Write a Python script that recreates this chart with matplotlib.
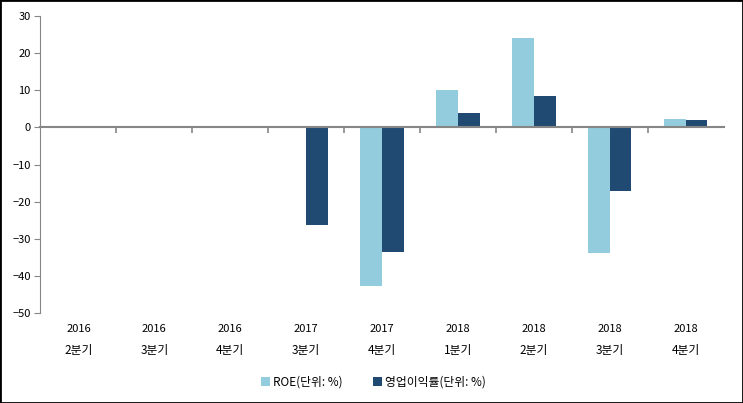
import numpy as np
import matplotlib
matplotlib.use("Agg")
import matplotlib.pyplot as plt
from matplotlib.patches import Rectangle

plt.rcParams['font.family'] = ['Noto Sans CJK KR', 'DejaVu Sans']

years = ["2016", "2016", "2016", "2017", "2017", "2018", "2018", "2018", "2018"]
quarters = ["2분기", "3분기", "4분기", "3분기", "4분기", "1분기", "2분기", "3분기", "4분기"]
roe = [0, 0, 0, 0, -42.8, 10.0, 24.1, -33.8, 2.4]
op_margin = [0, 0, 0, -26.2, -33.6, 3.8, 8.4, -17.0, 1.9]

light = "#93CDDD"
dark = "#214A73"
grey = "#868686"

fig = plt.figure(figsize=(7.43, 4.03), dpi=100)
ax = fig.add_axes([0.0545, 0.2233, 0.9195, 0.7367])

x = np.arange(len(years))
w = 0.285
ax.bar(x - w / 2, roe, w, color=light, label="ROE(단위: %)")
ax.bar(x + w / 2, op_margin, w, color=dark, label="영업이익률(단위: %)")

ax.set_xlim(-0.5, len(years) - 0.5)
ax.set_ylim(-50, 30)
ax.set_yticks(range(-50, 31, 10))
ax.tick_params(axis='y', labelsize=8, length=4, color=grey, direction='out', pad=3)

for s in ['top', 'right']:
    ax.spines[s].set_visible(False)
ax.spines['left'].set_color(grey)
ax.spines['bottom'].set_color(grey)
ax.spines['bottom'].set_position(('data', 0))
ax.spines['bottom'].set_linewidth(1.5)

ax.set_xticks(np.arange(0.5, len(years) - 0.5, 1))
ax.set_xticklabels([])
ax.tick_params(axis='x', length=4, color=grey, width=1.2)

for i in range(len(years)):
    ax.text(i, -0.055, years[i], transform=ax.get_xaxis_transform(),
            ha='center', va='center', fontsize=8)
    ax.text(i, -0.125, quarters[i], transform=ax.get_xaxis_transform(),
            ha='center', va='center', fontsize=8.5)

leg = fig.legend(loc='center', bbox_to_anchor=(0.503, 0.052), ncol=2, frameon=False,
                 fontsize=8.5, handlelength=0.7, handleheight=0.7, handletextpad=0.3,
                 columnspacing=2.6)

fig.patches.append(Rectangle((0, 0), 1, 1, transform=fig.transFigure, fill=False,
                             edgecolor='black', linewidth=2))

fig.savefig("out.png", dpi=100)
